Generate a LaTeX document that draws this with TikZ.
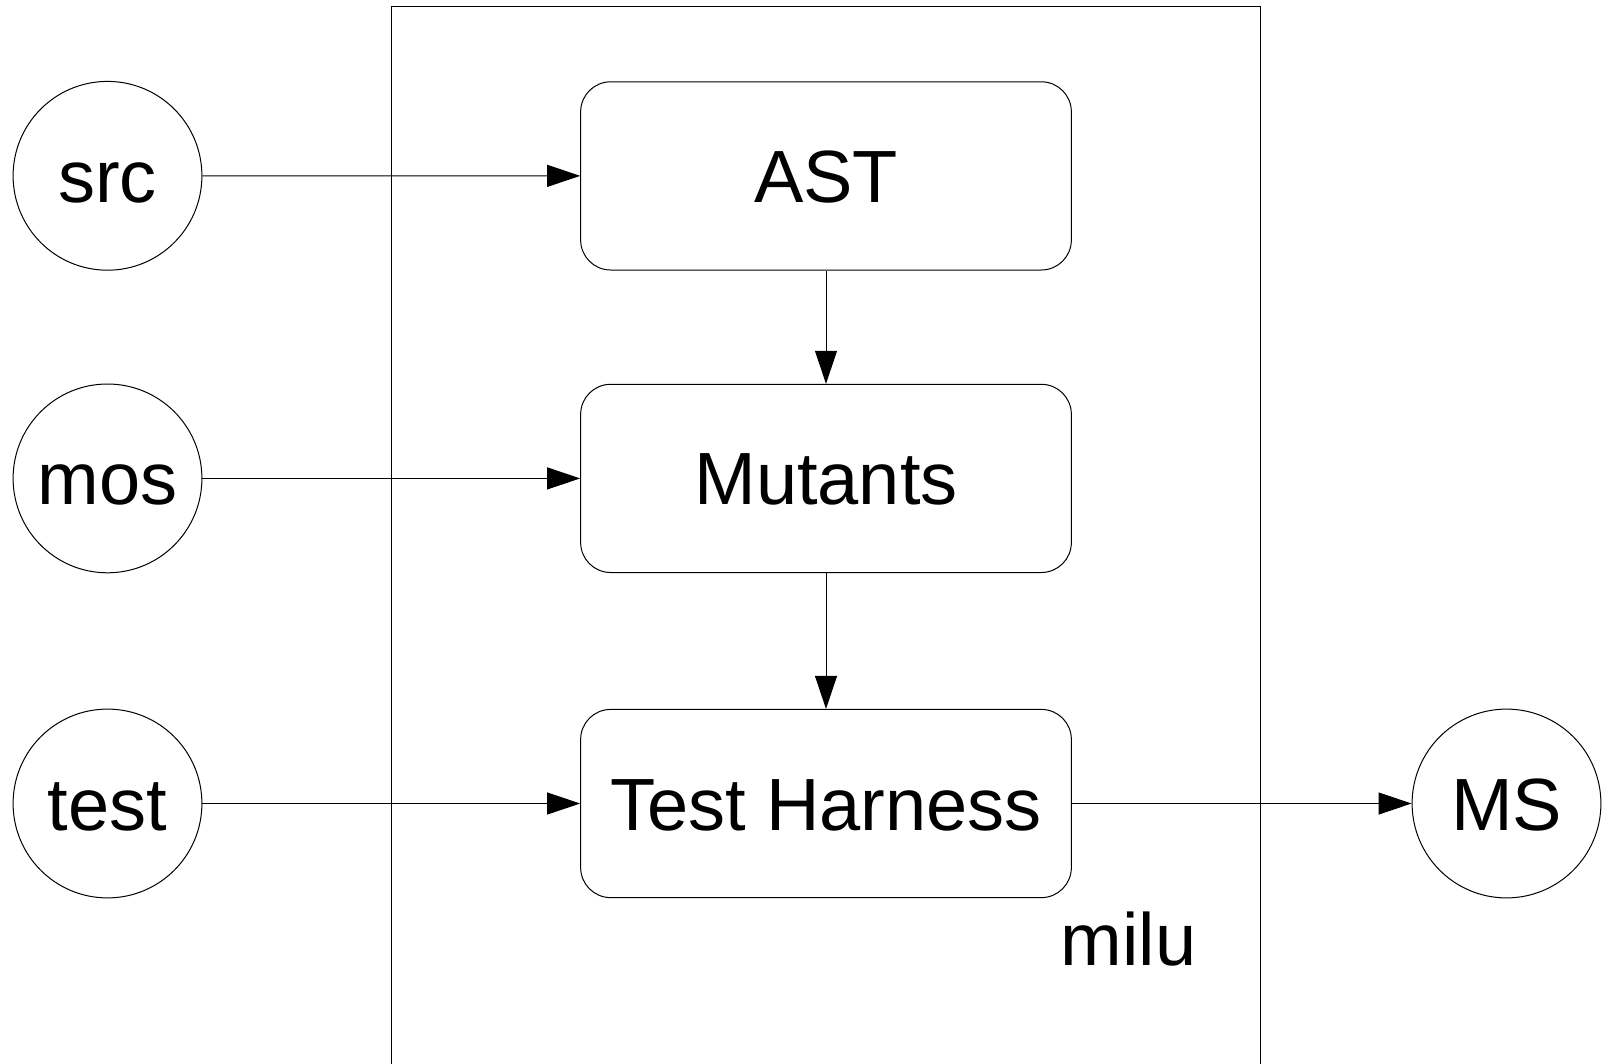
\documentclass[tikz,border=0pt]{standalone}
\usepackage{fontspec}
\setmainfont{Liberation Sans}
\usetikzlibrary{arrows.meta}
\begin{document}
\begin{tikzpicture}[x=1pt,y=-1pt,
  every node/.style={font=\fontsize{74}{80}\selectfont, text=black},
  ioc/.style={draw, line width=1pt, circle, minimum size=188.8pt, inner sep=0pt, text height=53pt, text depth=0pt},
  stagebox/.style={draw, line width=1pt, rectangle, rounded corners=30pt, minimum width=490.7pt, minimum height=188.2pt, inner sep=0pt, text height=53pt, text depth=0pt},
  flow/.style={line width=1pt, -{Triangle[length=33pt,width=22pt]}},
  framebox/.style={line width=1pt}]
\useasboundingbox (0,0) rectangle (1603,1063);
% frame of milu (open at bottom)
\coordinate (fbl) at (391.5,1075);
\coordinate (ftl) at (391.5,6);
\coordinate (ftr) at (1260.5,6);
\coordinate (fbr) at (1260.5,1075);
\draw[framebox] (fbl) -- (ftl) -- (ftr) -- (fbr);
\node[anchor=base] (milu) at (1128.5,965) {milu};
% inputs
\node[ioc] (src) at (107.5,175.8) {src};
\node[ioc] (mos) at (107.5,478.4) {mos};
\node[ioc] (test) at (107.5,803.5) {test};
\node[ioc] (ms) at (1506.5,803.5) {MS};
% stages
\node[stagebox] (ast) at (826,175.9) {AST};
\node[stagebox] (mut) at (826,478.4) {Mutants};
\node[stagebox] (th) at (826,803.5) {Test Harness};
% connectors
\draw[flow] (src) -- (ast);
\draw[flow] (mos) -- (mut);
\draw[flow] (test) -- (th);
\draw[flow] (ast) -- (mut);
\draw[flow] (mut) -- (th);
\draw[flow] (th) -- (ms);
\end{tikzpicture}
\end{document}
